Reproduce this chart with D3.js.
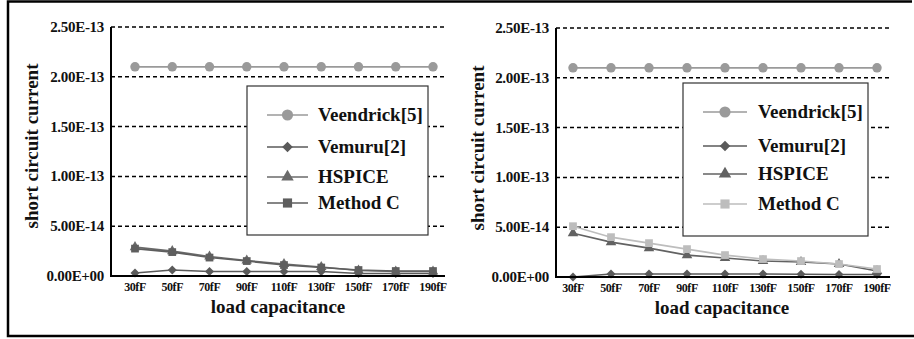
<!DOCTYPE html>
<html lang="en">
<head>
<meta charset="UTF-8">
<title>Short circuit current vs load capacitance</title>
<script src="https://d3js.org/d3.v7.min.js"></script>
<style>
  body { margin: 0; background: #fff; }
  svg text { font-family: "Liberation Serif", "Times New Roman", Times, "DejaVu Serif", serif; font-weight: bold; fill: #111; }
  .grid { stroke: #000; stroke-width: 1.5px; stroke-dasharray: 4,3; }
  .axis-line { stroke: #000; stroke-width: 2px; }
  .series { fill: none; stroke-width: 1.6px; }
</style>
</head>
<body>
<div id="chart"></div>
<script>
// categories and tick labels
var loads = ["30fF", "50fF", "70fF", "90fF", "110fF", "130fF", "150fF", "170fF", "190fF"];
var yTicks = [0, 5e-14, 1e-13, 1.5e-13, 2e-13, 2.5e-13];
var yTickLabels = ["0.00E+00", "5.00E-14", "1.00E-13", "1.50E-13", "2.00E-13", "2.50E-13"];
var seriesNames = ["Veendrick[5]", "Vemuru[2]", "HSPICE", "Method C"];

// left panel values (A)
var veendrickA = [2.1e-13, 2.1e-13, 2.1e-13, 2.1e-13, 2.1e-13, 2.1e-13, 2.1e-13, 2.1e-13, 2.1e-13];
var vemuruA   = [0.3e-14, 0.6e-14, 0.45e-14, 0.45e-14, 0.45e-14, 0.45e-14, 0.25e-14, 0.25e-14, 0.25e-14];
var hspiceA   = [2.9e-14, 2.5e-14, 1.95e-14, 1.55e-14, 1.2e-14, 0.9e-14, 0.55e-14, 0.45e-14, 0.45e-14];
var methodCA  = [2.75e-14, 2.4e-14, 1.85e-14, 1.5e-14, 1.1e-14, 0.85e-14, 0.6e-14, 0.5e-14, 0.5e-14];

// right panel values (A)
var veendrickB = [2.1e-13, 2.1e-13, 2.1e-13, 2.1e-13, 2.1e-13, 2.1e-13, 2.1e-13, 2.1e-13, 2.1e-13];
var vemuruB   = [0.0, 0.3e-14, 0.3e-14, 0.3e-14, 0.3e-14, 0.3e-14, 0.27e-14, 0.25e-14, 0.25e-14];
var hspiceB   = [4.4e-14, 3.5e-14, 2.9e-14, 2.2e-14, 1.9e-14, 1.6e-14, 1.5e-14, 1.3e-14, 0.6e-14];
var methodCB  = [5.1e-14, 4.0e-14, 3.4e-14, 2.8e-14, 2.2e-14, 1.8e-14, 1.6e-14, 1.3e-14, 0.8e-14];

var W = 914, H = 339;
var svg = d3.select("#chart").append("svg").attr("width", W).attr("height", H)
    .attr("font-family", "'Liberation Serif', 'Times New Roman', Times, 'DejaVu Serif', serif");

// outer frame (left, top, bottom edges)
svg.append("path")
    .attr("d", "M912,1.5 H8 V336 H914")
    .attr("fill", "none").attr("stroke", "#000").attr("stroke-width", 2.5);

var panels = [
    { left: 111, right: 445, top: 27, bottom: 276, px0: 135, px1: 433,
      tickX: 104, ylabX: 38, ylabY: 146, xlabX: 278, xlabY: 313,
      legend: { x: 247, y: 86, w: 181, h: 149, rows: [115, 147, 177, 203], lx0: 267, lx1: 308, tx: 318 },
      data: [veendrickA, vemuruA, hspiceA, methodCA],
      colors: ["#9a9a9a", "#5a5a5a", "#6a6a6a", "#5e5e5e"] },
    { left: 556, right: 890, top: 28, bottom: 277, px0: 573, px1: 877,
      tickX: 549, ylabX: 484, ylabY: 148, xlabX: 722, xlabY: 314,
      legend: { x: 683, y: 83, w: 185, h: 153, rows: [112, 146, 174, 204], lx0: 703, lx1: 747, tx: 758 },
      data: [veendrickB, vemuruB, hspiceB, methodCB],
      colors: ["#9a9a9a", "#5a5a5a", "#626262", "#bdbdbd"] }
];

// marker shapes: circle, rotated square (diamond), triangle, square
var symbols = [d3.symbolCircle, d3.symbolSquare, d3.symbolTriangle, d3.symbolSquare];
var symRot = [0, 45, 0, 0];
var symSizes = [70, 40, 48, 60];

panels.forEach(function (p) {
    var x = d3.scalePoint().domain(loads).range([p.px0, p.px1]);
    var y = d3.scaleLinear().domain([0, 2.5e-13]).range([p.bottom, p.top]);

    // dashed gridlines
    svg.append("g").selectAll("line")
        .data(yTicks.slice(1))
        .enter().append("line")
        .attr("class", "grid")
        .attr("x1", p.left).attr("x2", p.right)
        .attr("y1", d => y(d)).attr("y2", d => y(d));

    // y tick labels
    svg.append("g").selectAll("text")
        .data(yTicks)
        .enter().append("text")
        .attr("x", p.tickX)
        .attr("y", d => y(d) + 5)
        .attr("text-anchor", "end")
        .style("font-size", "15px")
        .style("letter-spacing", "-0.3px")
        .text((d, i) => yTickLabels[i]);

    // x tick labels
    svg.append("g").selectAll("text")
        .data(loads)
        .enter().append("text")
        .attr("x", d => x(d))
        .attr("y", p.bottom + 15)
        .attr("text-anchor", "middle")
        .style("font-size", "12px")
        .style("letter-spacing", "-0.4px")
        .text(d => d);

    // series lines and markers
    p.data.forEach(function (vals, s) {
        var pts = vals.map((v, i) => [x(loads[i]), y(v)]);
        svg.append("path")
            .attr("class", "series")
            .attr("stroke", p.colors[s])
            .attr("d", d3.line()(pts));
        svg.append("g").selectAll("path")
            .data(pts)
            .enter().append("path")
            .attr("transform", d => `translate(${d[0]},${d[1]}) rotate(${symRot[s]})`)
            .attr("d", d3.symbol().type(symbols[s]).size(symSizes[s]))
            .attr("fill", p.colors[s]);
    });

    // axes lines
    svg.append("line").attr("class", "axis-line")
        .attr("x1", p.left).attr("x2", p.left).attr("y1", p.top).attr("y2", p.bottom + 1);
    svg.append("line").attr("class", "axis-line")
        .attr("x1", p.left - 1).attr("x2", p.right).attr("y1", p.bottom).attr("y2", p.bottom);

    // axis titles
    svg.append("text")
        .attr("transform", `translate(${p.ylabX},${p.ylabY}) rotate(-90)`)
        .attr("text-anchor", "middle")
        .style("font-size", "19px")
        .text("short circuit current");
    svg.append("text")
        .attr("x", p.xlabX).attr("y", p.xlabY)
        .attr("text-anchor", "middle")
        .style("font-size", "19px")
        .text("load capacitance");

    // legend
    var L = p.legend;
    svg.append("rect")
        .attr("x", L.x).attr("y", L.y).attr("width", L.w).attr("height", L.h)
        .attr("fill", "#fff").attr("stroke", "#333").attr("stroke-width", 1.2);
    seriesNames.forEach(function (name, s) {
        var ry = L.rows[s];
        svg.append("line")
            .attr("x1", L.lx0).attr("x2", L.lx1).attr("y1", ry).attr("y2", ry)
            .attr("stroke", p.colors[s]).attr("stroke-width", 1.6);
        svg.append("path")
            .attr("transform", `translate(${(L.lx0 + L.lx1) / 2},${ry}) rotate(${symRot[s]})`)
            .attr("d", d3.symbol().type(symbols[s]).size(symSizes[s] * 1.4))
            .attr("fill", p.colors[s]);
        svg.append("text")
            .attr("x", L.tx).attr("y", ry + 6)
            .style("font-size", "19px")
            .text(name);
    });
});
</script>
</body>
</html>
